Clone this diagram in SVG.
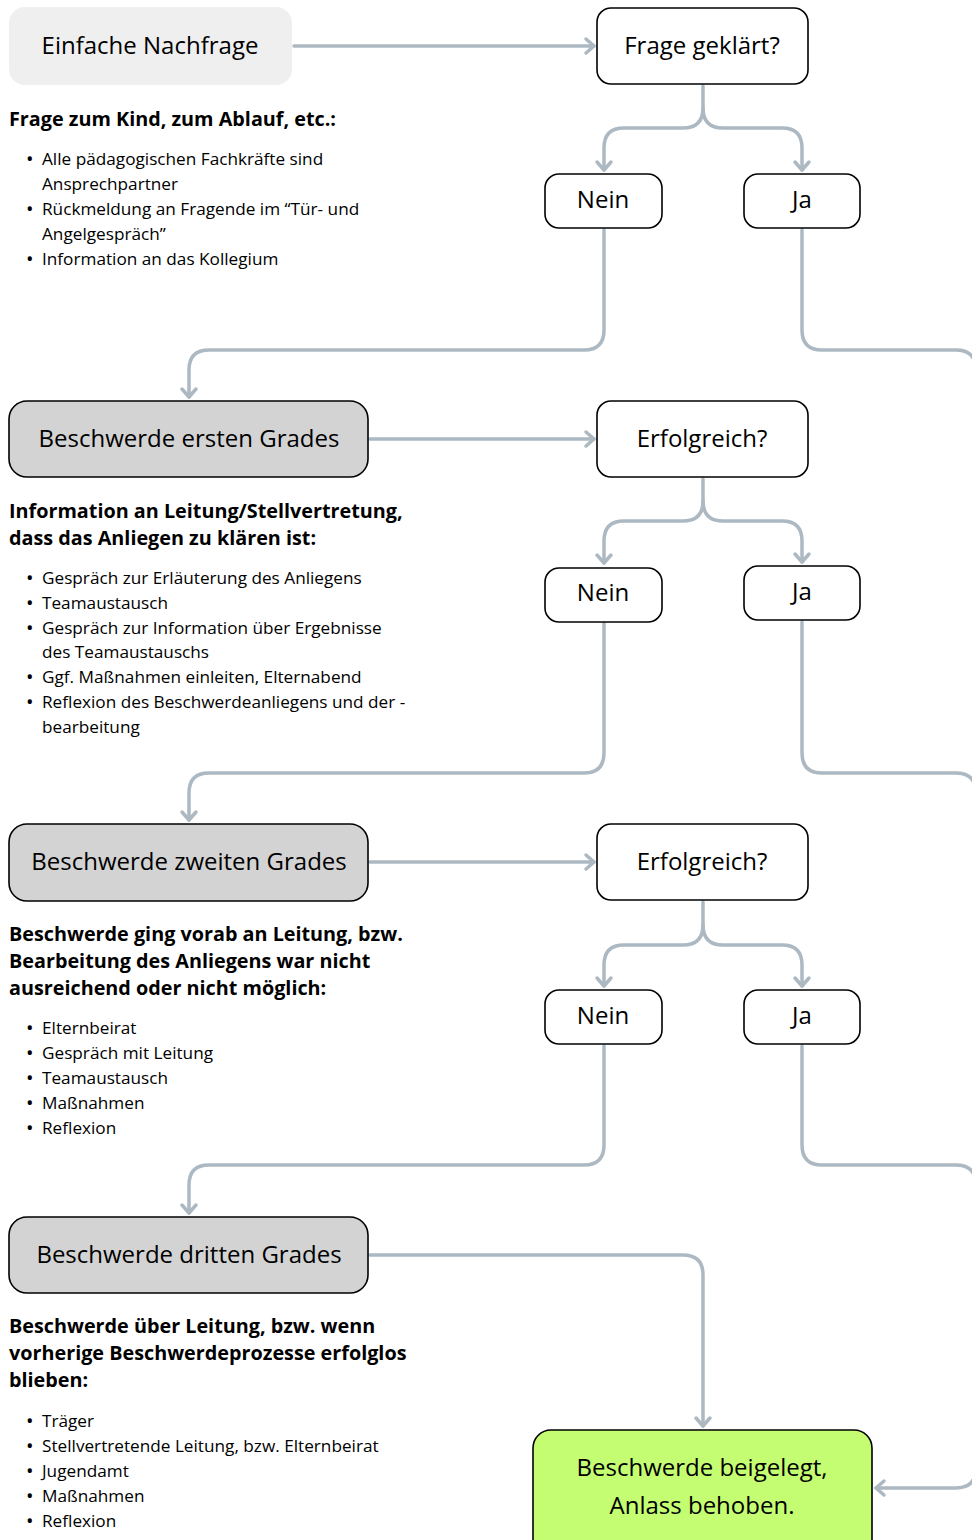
<svg xmlns="http://www.w3.org/2000/svg" width="972" height="1540" viewBox="0 0 972 1540">
<style>
.t{font-family:"Open Sans","Liberation Sans",sans-serif;fill:#000}
.node{font-size:24px;text-anchor:middle}
.h{font-size:19.8px;font-weight:bold}
.b{font-size:17.2px}
.d{font-size:20px}
.box{fill:#fff;stroke:#000;stroke-width:1.6}
.grey{fill:#D3D3D3;stroke:#000;stroke-width:1.6}
.c{fill:none;stroke:#ADB9C2;stroke-width:3.5;stroke-linecap:round;stroke-linejoin:round}
</style>
<defs>
<marker id="ah" markerUnits="userSpaceOnUse" viewBox="-12 -10 16 20" refX="0" refY="0" markerWidth="16" markerHeight="20" orient="auto">
<path d="M-8,-7 L0,0 L-8,7" fill="none" stroke="#ADB9C2" stroke-width="3.5" stroke-linecap="round" stroke-linejoin="round"/>
</marker>
</defs>
<rect width="972" height="1540" fill="#fff"/>
<g id="connectors">
<path class="c" d="M294,46 H594" marker-end="url(#ah)"/>
<path class="c" d="M703,86 V108 Q703,128 683,128 H624 Q604,128 604,148 V170" marker-end="url(#ah)"/>
<path class="c" d="M703,108 Q703,128 723,128 H782 Q802,128 802,148 V170" marker-end="url(#ah)"/>
<path class="c" d="M604,230 V330 Q604,350 584,350 H209 Q189,350 189,370 V397" marker-end="url(#ah)"/>
<path class="c" d="M802,230 V330 Q802,350 822,350 H956 Q976,350 976,370 V1468"/>
<path class="c" d="M370,439 H594" marker-end="url(#ah)"/>
<path class="c" d="M703,479 V501 Q703,521 683,521 H624 Q604,521 604,541 V563" marker-end="url(#ah)"/>
<path class="c" d="M703,501 Q703,521 723,521 H782 Q802,521 802,541 V562" marker-end="url(#ah)"/>
<path class="c" d="M604,623 V753 Q604,773 584,773 H209 Q189,773 189,793 V820" marker-end="url(#ah)"/>
<path class="c" d="M802,622 V753 Q802,773 822,773 H956 Q976,773 976,793 V900"/>
<path class="c" d="M370,862 H594" marker-end="url(#ah)"/>
<path class="c" d="M703,902 V925 Q703,945 683,945 H624 Q604,945 604,965 V986" marker-end="url(#ah)"/>
<path class="c" d="M703,925 Q703,945 723,945 H782 Q802,945 802,965 V986" marker-end="url(#ah)"/>
<path class="c" d="M604,1046 V1145 Q604,1165 584,1165 H209 Q189,1165 189,1185 V1213" marker-end="url(#ah)"/>
<path class="c" d="M802,1046 V1145 Q802,1165 822,1165 H956 Q976,1165 976,1185 V1468 Q976,1488 956,1488 H876" marker-end="url(#ah)"/>
<path class="c" d="M370,1255 H683 Q703,1255 703,1275 V1426" marker-end="url(#ah)"/>
</g>
<g id="einfache">
<rect x="9" y="7" width="283" height="78" rx="16" fill="#EFEFEF"/>
<text class="t node" x="150" y="54">Einfache Nachfrage</text>
</g>
<g id="frage">
<rect class="box" x="597" y="8" width="211" height="76" rx="14"/>
<text class="t node" x="702" y="54">Frage geklärt?</text>
</g>
<g id="nein1"><rect class="box" x="545" y="174" width="117" height="54" rx="14"/><text class="t node" x="603" y="208">Nein</text></g>
<g id="ja1"><rect class="box" x="744" y="174" width="116" height="54" rx="14"/><text class="t node" x="802" y="208">Ja</text></g>
<g id="text1">
<text class="t h" x="9" y="126">Frage zum Kind, zum Ablauf, etc.:</text>
<text class="t d"><tspan x="26" y="166">•</tspan><tspan x="26" y="216">•</tspan><tspan x="26" y="266">•</tspan></text>
<text class="t b"><tspan x="42" y="165">Alle pädagogischen Fachkräfte sind</tspan><tspan x="42" y="190">Ansprechpartner</tspan><tspan x="42" y="215">Rückmeldung an Fragende im “Tür- und</tspan><tspan x="42" y="240">Angelgespräch”</tspan><tspan x="42" y="265">Information an das Kollegium</tspan></text>
</g>
<g id="grad1">
<rect class="grey" x="9" y="401" width="359" height="76" rx="18"/>
<text class="t node" x="189" y="447">Beschwerde ersten Grades</text>
</g>
<g id="erfolg1"><rect class="box" x="597" y="401" width="211" height="76" rx="14"/><text class="t node" x="702" y="447">Erfolgreich?</text></g>
<g id="nein2"><rect class="box" x="545" y="568" width="117" height="54" rx="14"/><text class="t node" x="603" y="601">Nein</text></g>
<g id="ja2"><rect class="box" x="744" y="566" width="116" height="54" rx="14"/><text class="t node" x="802" y="600">Ja</text></g>
<g id="text2">
<text class="t h"><tspan x="9" y="518">Information an Leitung/Stellvertretung,</tspan><tspan x="9" y="545">dass das Anliegen zu klären ist:</tspan></text>
<text class="t d"><tspan x="26" y="585">•</tspan><tspan x="26" y="610">•</tspan><tspan x="26" y="635">•</tspan><tspan x="26" y="684">•</tspan><tspan x="26" y="709">•</tspan></text>
<text class="t b"><tspan x="42" y="584">Gespräch zur Erläuterung des Anliegens</tspan><tspan x="42" y="609">Teamaustausch</tspan><tspan x="42" y="634">Gespräch zur Information über Ergebnisse</tspan><tspan x="42" y="658">des Teamaustauschs</tspan><tspan x="42" y="683">Ggf. Maßnahmen einleiten, Elternabend</tspan><tspan x="42" y="708">Reflexion des Beschwerdeanliegens und der -</tspan><tspan x="42" y="733">bearbeitung</tspan></text>
</g>
<g id="grad2">
<rect class="grey" x="9" y="824" width="359" height="77" rx="18"/>
<text class="t node" x="189" y="870">Beschwerde zweiten Grades</text>
</g>
<g id="erfolg2"><rect class="box" x="597" y="824" width="211" height="76" rx="14"/><text class="t node" x="702" y="870">Erfolgreich?</text></g>
<g id="nein3"><rect class="box" x="545" y="990" width="117" height="54" rx="14"/><text class="t node" x="603" y="1024">Nein</text></g>
<g id="ja3"><rect class="box" x="744" y="990" width="116" height="54" rx="14"/><text class="t node" x="802" y="1024">Ja</text></g>
<g id="text3">
<text class="t h"><tspan x="9" y="941">Beschwerde ging vorab an Leitung, bzw.</tspan><tspan x="9" y="968">Bearbeitung des Anliegens war nicht</tspan><tspan x="9" y="995">ausreichend oder nicht möglich:</tspan></text>
<text class="t d"><tspan x="26" y="1035">•</tspan><tspan x="26" y="1060">•</tspan><tspan x="26" y="1085">•</tspan><tspan x="26" y="1110">•</tspan><tspan x="26" y="1135">•</tspan></text>
<text class="t b"><tspan x="42" y="1034">Elternbeirat</tspan><tspan x="42" y="1059">Gespräch mit Leitung</tspan><tspan x="42" y="1084">Teamaustausch</tspan><tspan x="42" y="1109">Maßnahmen</tspan><tspan x="42" y="1134">Reflexion</tspan></text>
</g>
<g id="grad3">
<rect class="grey" x="9" y="1217" width="359" height="76" rx="18"/>
<text class="t node" x="189" y="1263">Beschwerde dritten Grades</text>
</g>
<g id="text4">
<text class="t h"><tspan x="9" y="1333">Beschwerde über Leitung, bzw. wenn</tspan><tspan x="9" y="1360">vorherige Beschwerdeprozesse erfolglos</tspan><tspan x="9" y="1387">blieben:</tspan></text>
<text class="t d"><tspan x="26" y="1428">•</tspan><tspan x="26" y="1453">•</tspan><tspan x="26" y="1478">•</tspan><tspan x="26" y="1503">•</tspan><tspan x="26" y="1528">•</tspan></text>
<text class="t b"><tspan x="42" y="1427">Träger</tspan><tspan x="42" y="1452">Stellvertretende Leitung, bzw. Elternbeirat</tspan><tspan x="42" y="1477">Jugendamt</tspan><tspan x="42" y="1502">Maßnahmen</tspan><tspan x="42" y="1527">Reflexion</tspan></text>
</g>
<g id="final">
<rect x="533" y="1430" width="339" height="130" rx="18" fill="#C5FD72" stroke="#000" stroke-width="1.6"/>
<text class="t node" x="702" y="1476">Beschwerde beigelegt,</text>
<text class="t node" x="702" y="1514">Anlass behoben.</text>
</g>
</svg>
